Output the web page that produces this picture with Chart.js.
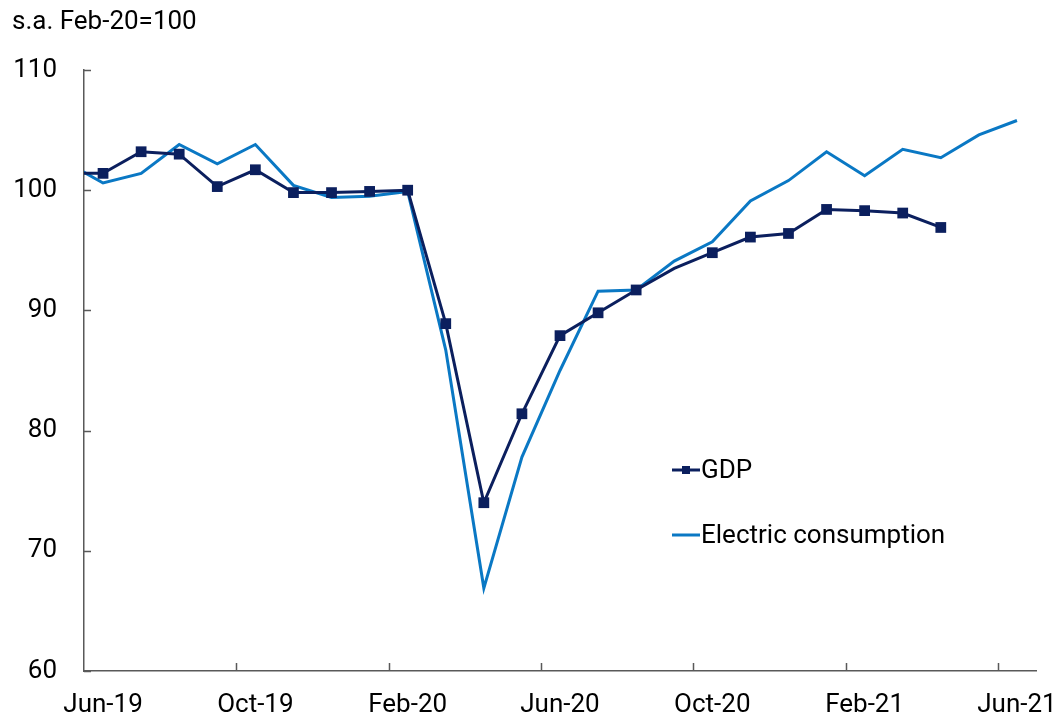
<!DOCTYPE html>
<html>
<head>
<meta charset="utf-8">
<script src="https://cdn.jsdelivr.net/npm/chart.js@4/dist/chart.umd.min.js"></script>
<style>
  html, body { margin: 0; padding: 0; background: #fff; }
  #wrap { width: 1057px; height: 717px; }
</style>
</head>
<body>
<div id="wrap"><canvas id="myChart"></canvas></div>
<script>
// months, May-19 is just left of the axis and gets clipped
var months = ['May-19', 'Jun-19', 'Jul-19', 'Aug-19', 'Sep-19', 'Oct-19', 'Nov-19', 'Dec-19',
  'Jan-20', 'Feb-20', 'Mar-20', 'Apr-20', 'May-20', 'Jun-20', 'Jul-20', 'Aug-20', 'Sep-20',
  'Oct-20', 'Nov-20', 'Dec-20', 'Jan-21', 'Feb-21', 'Mar-21', 'Apr-21', 'May-21', 'Jun-21'];
// labels shown under the x axis
var tickLabels = ['Jun-19', 'Oct-19', 'Feb-20', 'Jun-20', 'Oct-20', 'Feb-21', 'Jun-21'];
var yTicks = [60, 70, 80, 90, 100, 110];

var gdp = [101.4, 101.4, 103.2, 103.0, 100.3, 101.7, 99.8, 99.8, 99.9, 100.0,
  88.9, 74.0, 81.4, 87.9, 89.8, 91.7, 93.5, 94.8, 96.1, 96.4,
  98.4, 98.3, 98.1, 96.9, null, null];
var electric = [102.4, 100.6, 101.4, 103.8, 102.2, 103.8, 100.4, 99.4, 99.5, 99.9,
  86.7, 66.9, 77.8, 85.0, 91.6, 91.7, 94.1, 95.7, 99.1, 100.8,
  103.2, 101.2, 103.4, 102.7, 104.6, 105.8];

// Jun-19 sits at x = 0
function toPoints(vals) {
  return vals.map(function (v, i) { return { x: i - 1, y: v }; });
}
function monthIndex(label) { return months.indexOf(label) - 1; }

var FONT = 'Roboto, "Liberation Sans", sans-serif';
var FS = 26;
var axisColor = '#595959';

var insideTicks = {
  id: 'insideTicks',
  afterDraw: function (chart) {
    var ctx = chart.ctx, a = chart.chartArea;
    var xs = chart.scales.x, ys = chart.scales.y;
    ctx.save();
    ctx.strokeStyle = axisColor;
    ctx.lineWidth = 1.5;
    ctx.beginPath();
    yTicks.forEach(function (v) {
      var y = Math.round(ys.getPixelForValue(v)) + 0.5;
      ctx.moveTo(a.left, y);
      ctx.lineTo(a.left + 7, y);
    });
    tickLabels.forEach(function (l) {
      var i = monthIndex(l);
      if (i <= 0) return;
      var x = Math.round(xs.getPixelForValue(i - 0.5)) + 0.5;
      ctx.moveTo(x, a.bottom);
      ctx.lineTo(x, a.bottom - 8);
    });
    ctx.stroke();
    ctx.restore();
  }
};

var innerLegend = {
  id: 'innerLegend',
  afterDraw: function (chart) {
    var ctx = chart.ctx;
    var x0 = 672, rows = [470, 535];
    ctx.save();
    ctx.font = FS + 'px ' + FONT;
    ctx.textBaseline = 'middle';
    chart.data.datasets.forEach(function (ds, k) {
      var y = rows[k];
      ctx.strokeStyle = ds.borderColor;
      ctx.lineWidth = 3;
      ctx.beginPath();
      ctx.moveTo(x0, y);
      ctx.lineTo(x0 + 28, y);
      ctx.stroke();
      if (ds.pointStyle === 'rect') {
        ctx.fillStyle = ds.borderColor;
        ctx.fillRect(x0 + 10, y - 4, 8, 8);
      }
      ctx.fillStyle = '#000';
      ctx.fillText(ds.label, x0 + 29, y + 1);
    });
    ctx.restore();
  }
};

var ctx = document.getElementById('myChart');
var myChart = new Chart(ctx, {
  type: 'line',
  data: {
    datasets: [
      {
        label: 'GDP',
        data: toPoints(gdp),
        borderColor: '#0b1f5e',
        backgroundColor: '#0b1f5e',
        borderWidth: 3,
        pointStyle: 'rect',
        pointRadius: function (c) { return months[c.dataIndex] === 'Sep-20' ? 0 : 7.6; },
        pointBorderWidth: 0,
        tension: 0,
        clip: 0,
        spanGaps: false,
        order: 0
      },
      {
        label: 'Electric consumption',
        data: toPoints(electric),
        borderColor: '#0a78c4',
        backgroundColor: '#0a78c4',
        borderWidth: 3,
        pointRadius: 0,
        tension: 0,
        clip: 0,
        order: 1
      }
    ]
  },
  options: {
    responsive: true,
    maintainAspectRatio: false,
    animation: false,
    events: [],
    layout: { padding: { left: 12, right: 21, top: 7, bottom: 0 } },
    plugins: {
      legend: { display: false },
      tooltip: { enabled: false },
      title: {
        display: true,
        text: 's.a. Feb-20=100',
        align: 'start',
        color: '#000',
        font: { family: FONT, size: FS, weight: 'normal', lineHeight: 1.2 },
        padding: { top: 0, bottom: 31.8 }
      }
    },
    scales: {
      x: {
        type: 'linear',
        min: -0.5,
        max: 24.5,
        afterBuildTicks: function (s) {
          s.ticks = tickLabels.map(function (l) { return { value: monthIndex(l) }; });
        },
        afterFit: function (s) {
          s.height = 46;
          s.paddingLeft = 0;
          s.paddingRight = 0;
        },
        grid: { display: false, drawTicks: false },
        border: { display: true, color: axisColor, width: 1.5 },
        ticks: {
          autoSkip: false,
          maxRotation: 0,
          padding: 19,
          color: '#000',
          font: { family: FONT, size: FS },
          callback: function (v) { return months[v + 1]; }
        }
      },
      y: {
        min: 60,
        max: 110,
        afterBuildTicks: function (s) {
          s.ticks = yTicks.map(function (v) { return { value: v }; });
        },
        afterFit: function (s) {
          s.width = 72;
          s.paddingTop = 0;
          s.paddingBottom = 0;
        },
        grid: { display: false, drawTicks: false },
        border: { display: true, color: axisColor, width: 1.5 },
        ticks: {
          padding: 27,
          color: '#000',
          font: { family: FONT, size: FS }
        }
      }
    }
  },
  plugins: [insideTicks, innerLegend]
});
</script>
</body>
</html>
